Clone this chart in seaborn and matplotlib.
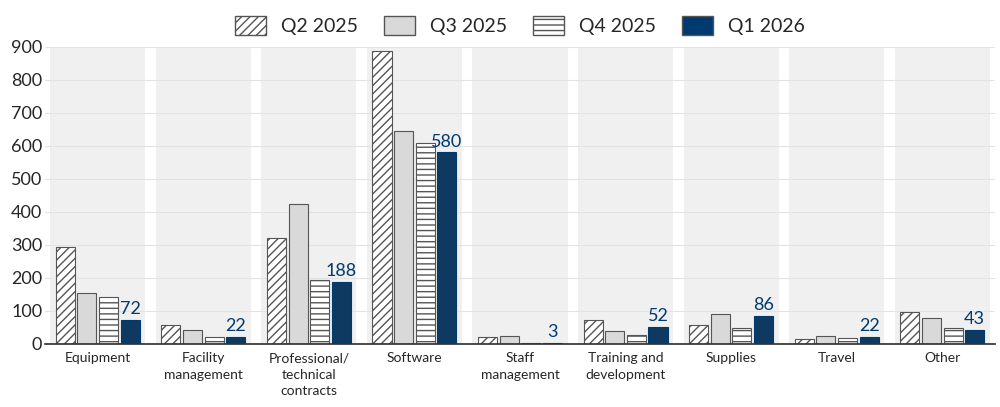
import matplotlib
matplotlib.use("Agg")
import matplotlib.pyplot as plt
import seaborn as sns
import pandas as pd

categories = ["Equipment", "Facility\nmanagement", "Professional/\ntechnical\ncontracts", "Software",
              "Staff\nmanagement", "Training and\ndevelopment", "Supplies", "Travel", "Other"]
quarters = ["Q2 2025", "Q3 2025", "Q4 2025", "Q1 2026"]
q2_2025 = [293, 57, 320, 888, 21, 72, 57, 15, 97]
q3_2025 = [154, 42, 423, 646, 24, 40, 90, 24, 79]
q4_2025 = [142, 21, 193, 610, 2, 27, 48, 18, 48]
q1_2026 = [72, 22, 188, 580, 3, 52, 86, 22, 43]

rows = []
for q, vals in zip(quarters, [q2_2025, q3_2025, q4_2025, q1_2026]):
    for c, v in zip(categories, vals):
        rows.append({"cat": c, "q": q, "v": v})
df = pd.DataFrame(rows)

sns.set_theme(style="white")
plt.rcParams['font.family'] = ['Lato', 'DejaVu Sans']
plt.rcParams['hatch.color'] = "#777777"
fig, ax = plt.subplots(figsize=(10, 4.07), dpi=100)
fig.subplots_adjust(left=0.045, right=0.995, top=0.885, bottom=0.155)

for i in range(len(categories)):
    ax.axvspan(i - 0.45, i + 0.45, color="#f0f0f0", zorder=0, lw=0)
for y in range(100, 901, 100):
    ax.axhline(y, color="#e3e3e3", lw=0.8, zorder=0.5)

palette = {"Q2 2025": "white", "Q3 2025": "#d9d9d9", "Q4 2025": "white", "Q1 2026": "#003a70"}
sns.barplot(data=df, x="cat", y="v", hue="q", palette=palette, ax=ax, width=0.82,
            edgecolor="#555555", linewidth=0.8, zorder=2, legend=False)
hatches = {"Q2 2025": "////", "Q3 2025": "", "Q4 2025": "---", "Q1 2026": ""}
for cont, q in zip(ax.containers, quarters):
    for b in cont:
        b.set_hatch(hatches[q])
        w = b.get_width()
        b.set_x(b.get_x() + w * 0.06)
        b.set_width(w * 0.88)
        if q == "Q1 2026":
            b.set_edgecolor("#003a70")
    if q == "Q1 2026":
        ax.bar_label(cont, labels=[str(v) for v in q1_2026], padding=2, color="#003a70", fontsize=13)

from matplotlib.patches import Patch
handles = [Patch(facecolor=palette[q], edgecolor="#555555", hatch=hatches[q], label=q) for q in quarters]
ax.legend(handles=handles, loc="lower center", bbox_to_anchor=(0.5, 1.0), ncol=4, frameon=False,
          fontsize=14, handlelength=1.6, handleheight=1.1, columnspacing=1.3, borderpad=0.1)

ax.set_ylim(0, 900)
ax.set_xlim(-0.5, len(categories) - 0.5)
ax.set_yticks(range(0, 901, 100))
ax.tick_params(axis="y", labelsize=13, length=0, pad=2)
ax.tick_params(axis="x", labelsize=10, length=0, pad=6)
ax.set_xlabel("")
ax.set_ylabel("")
for s in ["top", "right", "left"]:
    ax.spines[s].set_visible(False)
ax.spines["bottom"].set_color("#333333")
for t in ax.get_xticklabels():
    t.set_linespacing(1.45)
fig.savefig("out.png")
